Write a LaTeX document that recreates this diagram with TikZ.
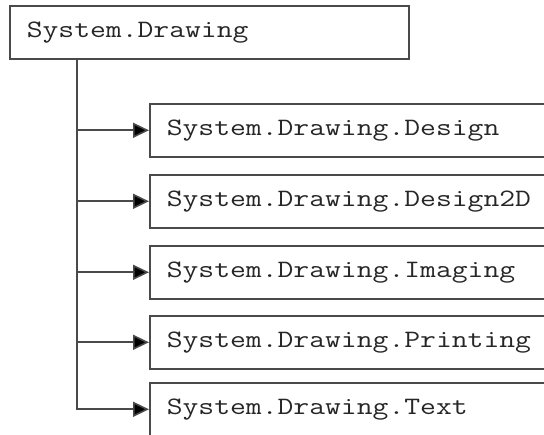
\documentclass[tikz,border=0pt]{standalone}
\usepackage{fontspec}
\setmonofont{Latin Modern Mono}[FakeStretch=1.23]
\usetikzlibrary{arrows.meta}
\definecolor{edge}{HTML}{4A4A4A}
\definecolor{txt}{HTML}{262626}
\tikzset{
  nsbox/.style={draw=edge, line width=1.6pt, anchor=north west, inner xsep=17pt, inner ysep=0pt,
    align=left, font=\ttfamily\fontsize{25}{30}\selectfont, text=txt},
  topbox/.style={nsbox, minimum width=399pt, text width=365pt, minimum height=53pt},
  childbox/.style={nsbox, minimum width=420pt, text width=386pt, minimum height=53pt},
  link/.style={draw=edge, line width=1.6pt, -{Triangle[length=16pt,width=15pt,fill=black]}}
}
\begin{document}
\begin{tikzpicture}[x=1pt,y=1pt]
\useasboundingbox (0,0) rectangle (544,-435);
\clip (0,0) rectangle (544,-435);
\node[topbox] (top) at (9,-5) {System.Drawing};
\node[childbox] (c1) at (149,-103) {System.Drawing.Design};
\node[childbox] (c2) at (149,-174) {System.Drawing.Design2D};
\node[childbox] (c3) at (149,-245) {System.Drawing.Imaging};
\node[childbox] (c4) at (149,-315) {System.Drawing.Printing};
\node[childbox] (c5) at (149,-382) {System.Drawing.Text};
\coordinate (trunk) at (77,-58);
\foreach \c in {c1,c2,c3,c4,c5}{
  \draw[link] (trunk) |- (\c.west);
}
\end{tikzpicture}
\end{document}
